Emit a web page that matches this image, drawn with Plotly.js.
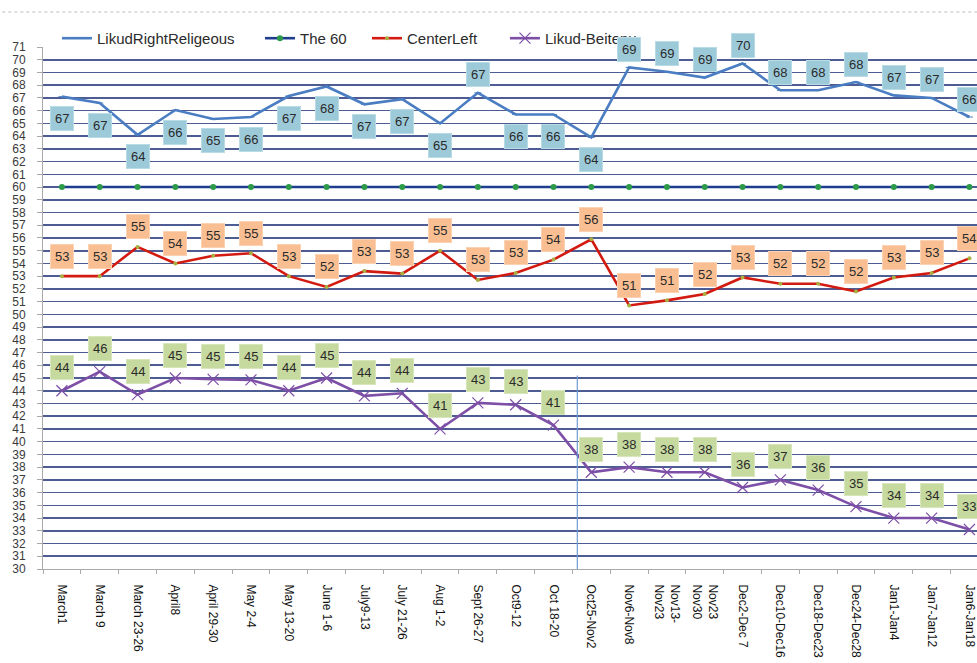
<!DOCTYPE html>
<html>
<head>
<meta charset="utf-8">
<script src="https://cdn.plot.ly/plotly-3.0.1.min.js"></script>
<style>html,body{margin:0;padding:0;background:#fff;overflow:hidden}#chart{width:977px;height:663px}</style>
</head>
<body>
<div id="chart"></div>
<script>
// ---- data ----
const categories = ['March1','March 9','March 23-26','April8','April 29-30','May 2-4','May 13-20','June 1-6',
  'July9-13','July 21-26','Aug 1-2','Sept 26-27','Oct9-12','Oct 18-20','Oct25-Nov2','Nov6-Nov8',
  'Nov13-<br>Nov23','Nov23<br>Nov30','Dec2-Dec 7','Dec10-Dec16','Dec18-Dec23','Dec24-Dec28',
  'Jan1-Jan4','Jan7-Jan12','Jan6-Jan18'];
const likudRightReligious = [67.1, 66.6, 64.1, 66.05, 65.35, 65.5, 67.15, 67.9, 66.5, 66.9, 65.0, 67.4, 65.7,
  65.7, 63.9, 69.4, 69.05, 68.6, 69.7, 67.6, 67.6, 68.25, 67.2, 67.0, 65.5];
const the60 = [60, 60, 60, 60, 60, 60, 60, 60, 60, 60, 60, 60, 60, 60, 60, 60, 60, 60, 60, 60, 60, 60, 60, 60, 60];
const centerLeft = [53.0, 53.0, 55.3, 54.0, 54.6, 54.8, 53.0, 52.15, 53.4, 53.2, 55.0, 52.7, 53.25, 54.3, 55.9,
  50.7, 51.1, 51.6, 52.9, 52.4, 52.4, 51.8, 52.9, 53.25, 54.4];
const likudBeitenu = [44.0, 45.5, 43.7, 45.0, 44.9, 44.85, 44.0, 45.0, 43.6, 43.8, 41.0, 43.05, 42.9, 41.3, 37.6,
  38.0, 37.6, 37.6, 36.4, 37.0, 36.2, 34.9, 34.0, 34.0, 33.1];
const seriesNames = ['LikudRightReligeous', 'The 60', 'CenterLeft', 'Likud-Beitenu'];
const yRange = [30, 71];

// ---- styling ----
const blueLabelPlace = ['b','b','b','b','b','b','b','b','b','b','b','a','b','b','b','a','a','a','a','a','a','a','a','a','a'];
const separatorX = 13.63, separatorTop = 45.2;
const legendX = [0.015, 0.2323, 0.3469, 0.4946];

// interior gridline values (no gridline on the 30 / 71 edges)
const gridVals = [];
for (let v = yRange[0] + 1; v < yRange[1]; v++) gridVals.push(v);

const font = 'Liberation Sans, Arial, sans-serif';
const legendNames = ['legend', 'legend2', 'legend3', 'legend4'];
const traces = [
  {x: categories, y: likudRightReligious, name: seriesNames[0], type: 'scatter', mode: 'lines+markers', legend: legendNames[0],
   line: {color: '#4A7DC2', width: 2.6}, marker: {symbol: 'line-ew', size: 5, line: {color: '#4A7DC2', width: 1}}},
  {x: categories, y: the60, name: seriesNames[1], type: 'scatter', mode: 'lines+markers', legend: legendNames[1],
   line: {color: '#1F3D8F', width: 2.6}, marker: {symbol: 'circle', size: 6, color: '#2C9A48'}},
  {x: categories, y: centerLeft, name: seriesNames[2], type: 'scatter', mode: 'lines+markers', legend: legendNames[2],
   line: {color: '#D21A10', width: 2.6}, marker: {symbol: 'circle', size: 4, color: '#A8B040'}},
  {x: categories, y: likudBeitenu, name: seriesNames[3], type: 'scatter', mode: 'lines+markers', legend: legendNames[3],
   line: {color: '#7D4FA6', width: 2.6}, marker: {symbol: 'x-thin-open', size: 11, line: {color: '#C09AE0', width: 1.2}}},
  // carrier for the gridline axis (draws nothing)
  {x: [categories[0]], y: [null], yaxis: 'y2', type: 'scatter', mode: 'lines', showlegend: false, hoverinfo: 'skip'}
];

const annotations = [];
function addLabels(vals, bg, border, shiftFn) {
  vals.forEach((v, i) => {
    annotations.push({x: i, y: v, xref: 'x', yref: 'y', text: String(Math.round(v)), showarrow: false,
      yshift: shiftFn(i), bgcolor: bg, bordercolor: border, borderwidth: 1, borderpad: 4,
      font: {family: font, size: 13, color: '#2b2b2b'}});
  });
}
addLabels(likudRightReligious, '#9DCAD9', '#B8DCE6', i => blueLabelPlace[i] === 'a' ? 18 : -22);
addLabels(centerLeft, '#F9BF92', '#FBD3B3', () => 20);
addLabels(likudBeitenu, '#C6D99F', '#D8E6BC', () => 23);

const layout = {
  width: 977, height: 663,
  margin: {l: 43, r: 0, t: 47, b: 94, pad: 0},
  paper_bgcolor: '#ffffff', plot_bgcolor: '#ffffff',
  font: {family: font, color: '#222'},
  showlegend: true,
  xaxis: {type: 'category', range: [-0.5, 24.2], showline: true, linecolor: '#A9A9A9', linewidth: 1,
    ticks: 'outside', tickson: 'boundaries', ticklen: 4, tickcolor: '#A9A9A9', showgrid: false,
    tickangle: 90, tickfont: {family: font, size: 12, color: '#111'}, ticklabelstandoff: 12, zeroline: false},
  yaxis: {range: yRange, dtick: 1, tick0: 30, showline: true, linecolor: '#A9A9A9', linewidth: 1,
    ticks: 'outside', ticklen: 5, tickcolor: '#A9A9A9', showgrid: false,
    tickfont: {family: font, size: 12, color: '#3a3a3a'}, zeroline: false, ticklabelstandoff: 9},
  yaxis2: {range: yRange, overlaying: 'y', side: 'left', tickmode: 'array', tickvals: gridVals,
    showticklabels: false, ticks: '', showline: false, showgrid: true, gridcolor: '#4E5C94', gridwidth: 1.6,
    zeroline: false, layer: 'below traces'},
  shapes: [
    {type: 'line', xref: 'x', yref: 'y', x0: separatorX, x1: separatorX, y0: 30, y1: separatorTop,
     line: {color: '#6F9BD1', width: 1.2}},
    {type: 'line', xref: 'paper', yref: 'paper', x0: -0.05, x1: 1, y0: 1.067, y1: 1.067,
     line: {color: '#BDBDBD', width: 1, dash: 'dot'}}
  ],
  annotations: annotations
};
legendNames.forEach((ln, k) => {
  layout[ln] = {orientation: 'h', x: legendX[k], xanchor: 'left', y: 1.048, yanchor: 'top',
    font: {family: font, size: 15, color: '#2b2b2b'}, bgcolor: 'rgba(0,0,0,0)'};
});

Plotly.newPlot('chart', traces, layout, {staticPlot: true, displayModeBar: false});
</script>
</body>
</html>
